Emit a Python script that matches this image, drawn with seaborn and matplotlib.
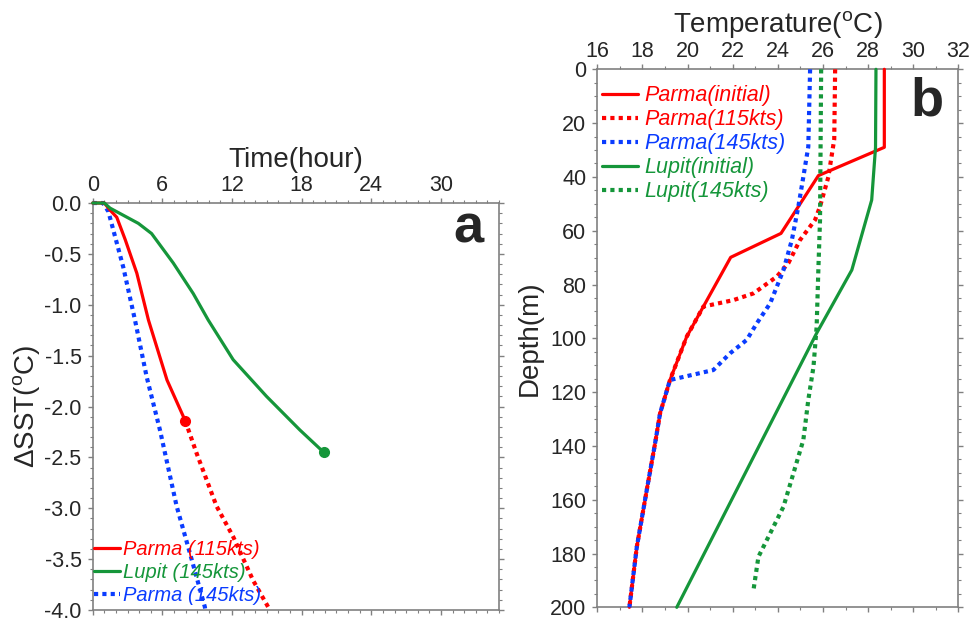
import numpy as np
import pandas as pd
import matplotlib
matplotlib.use("Agg")
import matplotlib.pyplot as plt
from matplotlib.ticker import MultipleLocator
import seaborn as sns

# ---------------- data: panel a (SST change vs time) ----------------
parma115_t = [0, 1.0, 1.5, 2.07, 2.8, 3.8, 4.8, 6.4, 7.97]
parma115_v = [0, 0, -0.07, -0.14, -0.36, -0.69, -1.15, -1.74, -2.14]
parma115_ext_t = [7.97, 8.95, 10.67, 12.1, 13.82, 15.26]
parma115_ext_v = [-2.14, -2.46, -2.98, -3.28, -3.71, -4.0]
lupit145_t = [0, 1.0, 1.49, 3.93, 5.07, 6.94, 8.66, 9.95, 12.1, 14.97, 17.84, 19.9]
lupit145_v = [0, 0, -0.05, -0.20, -0.30, -0.59, -0.89, -1.15, -1.54, -1.90, -2.23, -2.45]
parma145_t = [0, 0.9, 1.35, 2.63, 3.64, 4.65, 5.79, 7.23, 8.37, 9.66, 9.7]
parma145_v = [0, 0, -0.085, -0.63, -1.15, -1.71, -2.23, -2.98, -3.44, -3.97, -4.0]

time_ticks = [0, 6, 12, 18, 24, 30]
dsst_ticks = [0.0, -0.5, -1.0, -1.5, -2.0, -2.5, -3.0, -3.5, -4.0]

# ---------------- data: panel b (temperature profiles) ----------------
parma_init_T = [28.72, 28.72, 25.8, 24.14, 21.91, 20.7, 19.96, 19.22, 18.78, 18.56, 18.19, 17.75, 17.42]
parma_init_d = [0, 29, 39.5, 61, 69.9, 88.2, 99.4, 115.5, 127.9, 139, 156.4, 177.5, 200]
parma115p_T = [26.54, 26.5, 26.24, 25.87, 25.65, 24.98, 24.47, 23.95, 22.92, 22.03, 20.7, 19.96, 19.22,
               18.78, 18.56, 18.19, 17.75, 17.42]
parma115p_d = [0, 26, 40, 51, 56, 63.5, 72, 77.1, 83.3, 85.8, 88.2, 99.4, 115.5,
               127.9, 139, 156.4, 177.5, 200]
parma145p_T = [25.43, 25.35, 25.13, 24.91, 24.62, 24.25, 23.66, 23.07, 22.62, 21.88, 21.14, 19.22,
               18.78, 18.56, 18.19, 17.75, 17.42]
parma145p_d = [0, 28.8, 40, 51, 63.5, 74.6, 87, 94.4, 100.6, 105.6, 111.8, 115.5,
               127.9, 139, 156.4, 177.5, 200]
lupit_init_T = [28.35, 28.33, 28.16, 27.28, 25.72, 19.52]
lupit_init_d = [0, 29, 48.6, 74.6, 98.1, 200]
lupit145p_T = [25.92, 25.87, 25.8, 25.72, 25.58, 25.35, 25.13, 24.69, 24.25, 23.66, 23.14, 22.92]
lupit145p_d = [0, 56, 73.4, 95.7, 110.6, 122.9, 137.8, 150.2, 162.6, 172.5, 181.2, 193.6]

temp_ticks = [16, 18, 20, 22, 24, 26, 28, 30, 32]
depth_ticks = [0, 20, 40, 60, 80, 100, 120, 140, 160, 180, 200]

# ---------------- style ----------------
sns.set_theme(style="ticks")
plt.rcParams["font.family"] = ["Liberation Sans", "DejaVu Sans"]
plt.rcParams["mathtext.fontset"] = "custom"
plt.rcParams["mathtext.rm"] = "Liberation Sans"
plt.rcParams["axes.unicode_minus"] = False

RED = "#ff0000"
GREEN = "#15963a"
BLUE = "#0a3cff"
SPINE = "#808080"
LW = 2.3
DLW = 3.0
DOT = (0, (1, 1))

fig = plt.figure(figsize=(9.74, 6.22), dpi=100)
axa = fig.add_axes([0.0952, 0.0193, 0.4171, 0.6543])
axb = fig.add_axes([0.6133, 0.0236, 0.3706, 0.865])


def style_axes(ax, fs=15.5):
    for s in ax.spines.values():
        s.set_color(SPINE)
        s.set_linewidth(1.2)
    ax.tick_params(which="both", direction="out", top=True, bottom=True, left=True, right=True,
                   labeltop=True, labelbottom=False, color=SPINE, labelsize=fs)
    ax.tick_params(which="major", length=3.5, width=1.0)
    ax.tick_params(which="minor", length=2.0, width=0.8)
    ax.tick_params(axis="x", which="major", pad=1.5)
    ax.tick_params(axis="y", which="major", pad=4.5)
    ax.xaxis.set_label_position("top")


def unclip(ax):
    for ln in ax.lines:
        ln.set_clip_on(False)
        ln.set_zorder(3)


# ---------------- panel a ----------------
sns.lineplot(x=parma115_ext_t, y=parma115_ext_v, ax=axa, color=RED, lw=DLW, ls=DOT,
             sort=False, estimator=None)
sns.lineplot(x=parma145_t, y=parma145_v, ax=axa, color=BLUE, lw=DLW, ls=DOT,
             sort=False, estimator=None)
h_blue = axa.lines[-1]
sns.lineplot(x=parma115_t, y=parma115_v, ax=axa, color=RED, lw=LW, sort=False, estimator=None)
h_red = axa.lines[-1]
sns.lineplot(x=lupit145_t, y=lupit145_v, ax=axa, color=GREEN, lw=LW, sort=False, estimator=None)
h_green = axa.lines[-1]
axa.plot([parma115_t[-1]], [parma115_v[-1]], "o", color=RED, ms=7)
axa.plot([lupit145_t[-1]], [lupit145_v[-1]], "o", color=GREEN, ms=7)
unclip(axa)

axa.set_xlim(0, 35)
axa.set_ylim(-4.0, 0.0)
axa.set_xticks(time_ticks)
axa.set_yticks(dsst_ticks)
axa.set_yticklabels([f"{v:.1f}" for v in dsst_ticks])
axa.xaxis.set_minor_locator(MultipleLocator(1))
axa.yaxis.set_minor_locator(MultipleLocator(0.1))
style_axes(axa)
axa.set_xlabel("Time(hour)", fontsize=20, labelpad=6)
axa.set_ylabel(r"ΔSST($^\mathrm{o}$C)", fontsize=20, labelpad=1)
axa.text(0.961, 0.902, "a", transform=axa.transAxes, ha="right", va="baseline",
         fontsize=39, fontweight="bold")
axa.legend(handles=[h_red, h_green, h_blue],
           labels=["Parma (115kts)", "Lupit (145kts)", "Parma (145kts)"],
           loc="upper left", bbox_to_anchor=(0.004, 0.172), frameon=False,
           prop={"style": "italic", "size": 14.5}, labelcolor="linecolor",
           handlelength=1.25, handletextpad=0.15, labelspacing=0.2,
           borderpad=0, borderaxespad=0)

# ---------------- panel b ----------------
sns.lineplot(x=parma_init_T, y=parma_init_d, ax=axb, color=RED, lw=LW, sort=False, estimator=None)
hb1 = axb.lines[-1]
sns.lineplot(x=parma115p_T, y=parma115p_d, ax=axb, color=RED, lw=DLW, ls=DOT, sort=False, estimator=None)
hb2 = axb.lines[-1]
sns.lineplot(x=parma145p_T, y=parma145p_d, ax=axb, color=BLUE, lw=DLW, ls=DOT, sort=False, estimator=None)
hb3 = axb.lines[-1]
sns.lineplot(x=lupit_init_T, y=lupit_init_d, ax=axb, color=GREEN, lw=LW, sort=False, estimator=None)
hb4 = axb.lines[-1]
sns.lineplot(x=lupit145p_T, y=lupit145p_d, ax=axb, color=GREEN, lw=DLW, ls=DOT, sort=False, estimator=None)
hb5 = axb.lines[-1]
unclip(axb)

axb.set_xlim(16, 32)
axb.set_ylim(200, 0)
axb.set_xticks(temp_ticks)
axb.set_yticks(depth_ticks)
axb.xaxis.set_minor_locator(MultipleLocator(1))
axb.yaxis.set_minor_locator(MultipleLocator(5))
style_axes(axb)
axb.set_xlabel(r"Temperature($^\mathrm{o}$C)", fontsize=20, labelpad=6)
axb.set_ylabel("Depth(m)", fontsize=20, labelpad=5)
axb.text(0.958, 0.915, "b", transform=axb.transAxes, ha="right", va="baseline",
         fontsize=39, fontweight="bold")
axb.legend(handles=[hb1, hb2, hb3, hb4, hb5],
           labels=["Parma(initial)", "Parma(115kts)", "Parma(145kts)", "Lupit(initial)", "Lupit(145kts)"],
           loc="upper left", bbox_to_anchor=(0.012, 0.97), frameon=False,
           prop={"style": "italic", "size": 15.5}, labelcolor="linecolor",
           handlelength=1.7, handletextpad=0.28, labelspacing=0.14,
           borderpad=0, borderaxespad=0)

fig.savefig("out.png", dpi=100)
